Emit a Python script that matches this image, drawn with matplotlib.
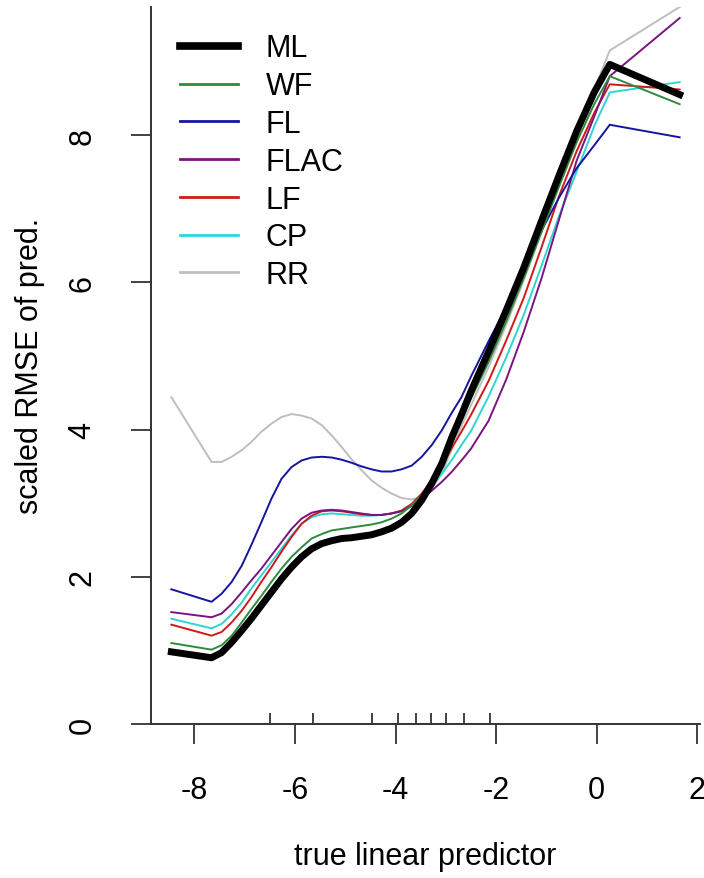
import matplotlib
matplotlib.use("Agg")
import matplotlib.pyplot as plt
from matplotlib.lines import Line2D

plt.rcParams['font.family'] = ['Liberation Sans', 'DejaVu Sans']
plt.rcParams['axes.unicode_minus'] = False

# true linear predictor grid
x = [-8.46, -7.66, -7.46, -7.26, -7.06, -6.87, -6.67, -6.47, -6.27, -6.07, -5.87, -5.67,
     -5.47, -5.27, -5.07, -4.88, -4.68, -4.48, -4.28, -4.08, -3.88, -3.68, -3.48, -3.28,
     -3.08, -2.89, -2.69, -2.5, -2.15, -1.8, -1.45, -1.1, -0.75, -0.4, -0.05, 0.26, 1.65]

ml = [0.98, 0.90, 0.97, 1.11, 1.27, 1.43, 1.61, 1.79, 1.97, 2.13, 2.27, 2.38,
      2.45, 2.49, 2.52, 2.53, 2.55, 2.57, 2.61, 2.66, 2.74, 2.86, 3.04, 3.27,
      3.54, 3.88, 4.20, 4.52, 5.06, 5.62, 6.20, 6.83, 7.45, 8.05, 8.58, 8.96, 8.55]
wf = [1.10, 1.01, 1.07, 1.20, 1.38, 1.56, 1.74, 1.93, 2.11, 2.27, 2.40, 2.52,
      2.58, 2.63, 2.65, 2.67, 2.69, 2.71, 2.74, 2.79, 2.86, 2.97, 3.11, 3.25,
      3.48, 3.80, 4.13, 4.42, 4.92, 5.47, 6.06, 6.68, 7.30, 7.90, 8.42, 8.80, 8.42]
fl = [1.83, 1.66, 1.77, 1.93, 2.15, 2.43, 2.74, 3.06, 3.33, 3.49, 3.58, 3.62,
      3.63, 3.62, 3.59, 3.55, 3.50, 3.46, 3.43, 3.43, 3.46, 3.51, 3.63, 3.79,
      3.99, 4.22, 4.44, 4.72, 5.20, 5.66, 6.18, 6.70, 7.15, 7.55, 7.86, 8.14, 7.97]
flac = [1.52, 1.45, 1.50, 1.63, 1.79, 1.95, 2.11, 2.29, 2.47, 2.65, 2.79, 2.87,
        2.90, 2.91, 2.90, 2.88, 2.86, 2.84, 2.84, 2.86, 2.89, 2.96, 3.06, 3.17,
        3.29, 3.42, 3.58, 3.74, 4.12, 4.68, 5.33, 6.05, 6.85, 7.65, 8.25, 8.80, 9.59]
lf = [1.35, 1.20, 1.25, 1.38, 1.54, 1.72, 1.93, 2.13, 2.34, 2.54, 2.72, 2.83,
      2.89, 2.90, 2.89, 2.87, 2.85, 2.84, 2.84, 2.86, 2.90, 2.99, 3.13, 3.31,
      3.51, 3.74, 3.97, 4.20, 4.66, 5.21, 5.79, 6.47, 7.17, 7.78, 8.30, 8.69, 8.62]
cp = [1.43, 1.30, 1.36, 1.49, 1.65, 1.84, 2.02, 2.20, 2.38, 2.56, 2.72, 2.81,
      2.85, 2.86, 2.85, 2.84, 2.83, 2.83, 2.84, 2.86, 2.89, 2.97, 3.08, 3.24,
      3.40, 3.58, 3.79, 3.98, 4.45, 4.98, 5.56, 6.22, 6.90, 7.50, 8.12, 8.58, 8.72]
rr = [4.44, 3.56, 3.56, 3.63, 3.72, 3.83, 3.97, 4.08, 4.17, 4.21, 4.19, 4.15,
      4.06, 3.92, 3.76, 3.60, 3.45, 3.31, 3.21, 3.13, 3.07, 3.05, 3.08, 3.20,
      3.40, 3.72, 4.05, 4.33, 4.85, 5.42, 6.03, 6.68, 7.35, 8.00, 8.62, 9.15, 9.74]

labels = ['ML', 'WF', 'FL', 'FLAC', 'LF', 'CP', 'RR']
colors = ['black', '#2e8b3e', '#1515a0', '#7b1480', '#d01a1a', '#2fd5d5', '#bebebe']
widths = [5, 1.4, 1.4, 1.4, 1.4, 1.4, 1.4]
series = [ml, wf, fl, flac, lf, cp, rr]

# rug of observed linear predictor values
rug = [-6.49, -5.65, -4.47, -3.95, -3.60, -3.30, -3.00, -2.64, -2.12]

fig = plt.figure(figsize=(7.04, 8.79), dpi=100)
ax = fig.add_axes([151/704, 1 - 725/879, 549/704, 717/879])

# thin lines first, ML on top
for lab, col, lw, y in list(zip(labels, colors, widths, series))[::-1]:
    ax.plot(x, y, color=col, lw=lw, solid_joinstyle='round', zorder=3 if lab == 'ML' else 2)

span = max(x) - min(x)
ax.set_xlim(min(x) - 0.04*span, max(x) + 0.04*span)
ax.set_ylim(0, max(max(s) for s in series))

ax.vlines(rug, 0, 0.15, color='#333333', lw=1.3)

for s in ['top', 'right']:
    ax.spines[s].set_visible(False)
for s in ['left', 'bottom']:
    ax.spines[s].set_linewidth(1.4)
    ax.spines[s].set_color('#333333')

ax.set_xticks([-8, -6, -4, -2, 0, 2])
ax.set_yticks([0, 2, 4, 6, 8])
ax.tick_params(axis='both', direction='out', length=14.5, width=1.3, color='#333333',
               labelsize=22)
ax.tick_params(axis='x', pad=22)
ax.tick_params(axis='y', pad=24)
for t in ax.get_yticklabels():
    t.set_rotation(90)
    t.set_va('center')

fig.text(425/704, 1 - 857/879, 'true linear predictor', ha='center', va='center', fontsize=22)
fig.text(30/704, 1 - 366/879, 'scaled RMSE of pred.', ha='center', va='center',
         rotation=90, fontsize=22)

handles = [Line2D([], [], color=c, lw=(5.5 if l == 'ML' else 2)) for l, c in zip(labels, colors)]
ax.legend(handles, labels, loc='upper left', bbox_to_anchor=(0.014, 0.993), frameon=False,
          fontsize=22, handlelength=1.9, handletextpad=0.9, labelspacing=0.255,
          borderaxespad=0.3)

fig.savefig('out.png', dpi=100)
